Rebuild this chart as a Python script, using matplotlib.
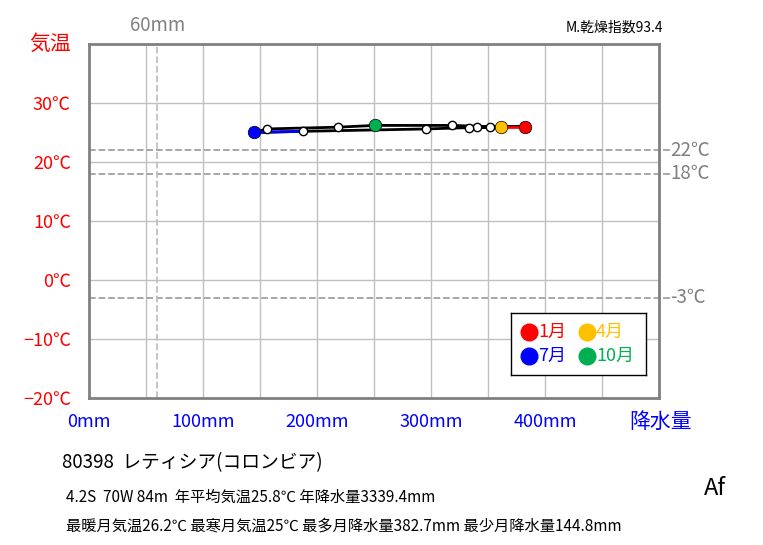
import matplotlib
matplotlib.use('Agg')
import matplotlib.pyplot as plt

plt.rcParams['font.family'] = ['Noto Sans CJK JP', 'DejaVu Sans']

# monthly values (Jan..Dec)
months = ['1月', '2月', '3月', '4月', '5月', '6月', '7月', '8月', '9月', '10月', '11月', '12月']
precip = [382.7, 340, 333, 361.7, 296, 188, 144.8, 156, 218, 251, 318, 352]
temp = [26.0, 26.0, 25.8, 26.0, 25.6, 25.2, 25.0, 25.6, 25.9, 26.2, 26.2, 26.0]

# highlighted months: index, colour
key_months = [0, 3, 6, 9]
key_colors = ['#ff0000', '#ffc000', '#0000ff', '#00b050']

ref_temps = [22, 18, -3]
ref_precip = 60

x_ticks = [0, 100, 200, 300, 400]
y_ticks = [-20, -10, 0, 10, 20, 30]

fig = plt.figure(figsize=(7.63, 5.45), dpi=100)
ax = fig.add_axes([0.1166, 0.2697, 0.8637 - 0.1166, 0.9193 - 0.2697])
ax.set_xlim(0, 500)
ax.set_ylim(-20, 40)

for s in ax.spines.values():
    s.set_color('#808080')
    s.set_linewidth(2)

for xv in range(50, 500, 50):
    ax.axvline(xv, color='#c0c0c0', lw=1, zorder=1)
for yv in range(-10, 40, 10):
    ax.axhline(yv, color='#c0c0c0', lw=1, zorder=1)

# reference lines
for t in ref_temps:
    ax.plot([0, 510], [t, t], ls='--', color='#a0a0a0', lw=1.3, clip_on=False, zorder=2)
    ax.text(510, t, '%d℃' % t, color='#808080', fontsize=13.5, va='center', ha='left')
ax.axvline(ref_precip, ls='--', color='#c0c0c0', lw=1.3, zorder=2)
ax.text(ref_precip, 41.3, '%dmm' % ref_precip, color='#808080', fontsize=13.5,
        ha='center', va='bottom')

# loop through the year
px = precip + [precip[0]]
py = temp + [temp[0]]
ax.plot(px, py, color='black', lw=2, zorder=3)
# coloured segments leading into Jan and Jul
ax.plot([precip[11], precip[0]], [temp[11], temp[0]], color='#ff0000', lw=2, zorder=4)
ax.plot([precip[5], precip[6]], [temp[5], temp[6]], color='#0000ff', lw=2, zorder=4)

others = [i for i in range(12) if i not in key_months]
ax.plot([precip[i] for i in others], [temp[i] for i in others], 'o', ls='none',
        mfc='white', mec='black', mew=1, ms=6, zorder=5)
for i, c in zip(key_months, key_colors):
    ax.plot(precip[i], temp[i], 'o', color=c, mec='black', mew=0.5, ms=9, zorder=6)

ax.set_xticks(x_ticks)
ax.set_xticklabels(['%dmm' % v for v in x_ticks], color='#0000ff', fontsize=13)
ax.set_yticks(y_ticks)
ax.set_yticklabels([('−%d℃' % -v if v < 0 else '%d℃' % v) for v in y_ticks],
                   color='#ff0000', fontsize=13)
ax.tick_params(axis='y', length=0, pad=13)
ax.tick_params(axis='x', length=0, pad=11)

fig.text(0.066, 0.919, '気温', color='#ff0000', fontsize=15, ha='center', va='center')
fig.text(0.866, 0.225, '降水量', color='#0000ff', fontsize=15, ha='center', va='center')
fig.text(0.869, 0.950, 'M.乾燥指数93.4', color='black', fontsize=10, ha='right', va='center')

# legend box
lg = fig.add_axes([511 / 763, 1 - 375 / 545, 135 / 763, 62 / 545])
lg.set_xlim(0, 1)
lg.set_ylim(0, 1)
lg.set_xticks([])
lg.set_yticks([])
for s in lg.spines.values():
    s.set_color('black')
    s.set_linewidth(1)
pos = [(0.13, 0.7), (0.56, 0.7), (0.13, 0.3), (0.56, 0.3)]
for (lx, ly), i, c in zip(pos, key_months, key_colors):
    lg.plot(lx, ly, 'o', color=c, ms=12)
    lg.text(lx + 0.07, ly, months[i], color=c, fontsize=13, va='center', ha='left')

fig.text(0.081, 0.152, '80398  レティシア(コロンビア)', fontsize=13.5, va='center')
fig.text(0.086, 0.087, '4.2S  70W 84m  年平均気温25.8℃ 年降水量3339.4mm',
         fontsize=11, va='center')
fig.text(0.086, 0.035, '最暖月気温26.2℃ 最寒月気温25℃ 最多月降水量382.7mm 最少月降水量144.8mm',
         fontsize=11, va='center')
fig.text(0.937, 0.104, 'Af', fontsize=17, ha='center', va='center')

fig.savefig('out.png', dpi=100, facecolor='white')
